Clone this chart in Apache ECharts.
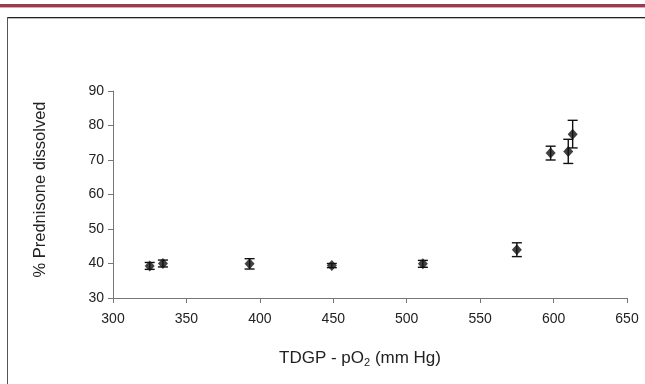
<!DOCTYPE html>
<html><head><meta charset="utf-8">
<script src="https://cdn.jsdelivr.net/npm/echarts@6/dist/echarts.min.js"></script>
<style>html,body{margin:0;padding:0;background:#fff}#c{width:645px;height:384px}</style>
</head><body><div id="c"></div>
<script>
const xVals = [325, 334, 393, 449, 511, 575, 598, 610, 613];
const yVals = [39.3, 40.0, 39.9, 39.4, 39.9, 44.0, 72.0, 72.5, 77.5];
const errVals = [1.0, 1.0, 1.5, 0.6, 1.0, 2.0, 2.0, 3.5, 4.0];
const xTicks = [300, 350, 400, 450, 500, 550, 600, 650];
const yTicks = [30, 40, 50, 60, 70, 80, 90];

const pts = xVals.map((x, i) => [x, yVals[i]]);
const errData = xVals.map((x, i) => [x, yVals[i] - errVals[i], yVals[i] + errVals[i]]);

const chart = echarts.init(document.getElementById('c'), null, {renderer: 'canvas'});
const font = 'Liberation Sans, Arial, sans-serif';
chart.setOption({
  animation: false,
  backgroundColor: '#fff',
  grid: {left: 113, right: 18, top: 91, bottom: 86},
  xAxis: {
    type: 'value', min: xTicks[0], max: xTicks[xTicks.length - 1], interval: 50,
    splitLine: {show: false},
    axisLine: {lineStyle: {color: '#777', width: 1}},
    axisTick: {show: true, length: 5, lineStyle: {color: '#777'}},
    axisLabel: {color: '#222', fontSize: 14, fontFamily: font, margin: 14},
    name: '{a|TDGP - pO}{s|2}{a| (mm Hg)}',
    nameLocation: 'middle', nameGap: 50,
    nameTextStyle: {
      padding: [0, 20, 0, 0],
      rich: {
        a: {fontSize: 17, fontFamily: font, color: '#222'},
        s: {fontSize: 11, fontFamily: font, color: '#222', padding: [9, 0, 0, 0]}
      }
    }
  },
  yAxis: {
    type: 'value', min: yTicks[0], max: yTicks[yTicks.length - 1], interval: 10,
    splitLine: {show: false},
    axisLine: {show: true, lineStyle: {color: '#777', width: 1}},
    axisTick: {show: true, length: 5, lineStyle: {color: '#777'}},
    axisLabel: {color: '#222', fontSize: 14, fontFamily: font, margin: 9},
    name: '% Prednisone dissolved',
    nameLocation: 'middle', nameGap: 64, nameRotate: 90,
    nameTextStyle: {fontSize: 16.5, fontFamily: font, color: '#222', padding: [0, 0, 0, 10]}
  },
  graphic: [
    {type: 'rect', shape: {x: 0, y: 4, width: 645, height: 3}, style: {fill: '#9c3a52'}},
    {type: 'rect', shape: {x: 0, y: 7, width: 645, height: 1}, style: {fill: '#d9a9b4'}},
    {type: 'line', shape: {x1: 7, y1: 17.5, x2: 645, y2: 17.5}, style: {stroke: '#222', lineWidth: 1}},
    {type: 'line', shape: {x1: 7, y1: 18.5, x2: 645, y2: 18.5}, style: {stroke: '#bbb', lineWidth: 1}},
    {type: 'line', shape: {x1: 7.5, y1: 17, x2: 7.5, y2: 384}, style: {stroke: '#555', lineWidth: 1}}
  ],
  series: [
    {
      type: 'custom',
      data: errData,
      z: 3,
      renderItem: function (params, api) {
        const x = api.value(0);
        const lo = api.coord([x, api.value(1)]);
        const hi = api.coord([x, api.value(2)]);
        const w = 5;
        const st = {stroke: '#111', lineWidth: 1.4};
        return {
          type: 'group',
          children: [
            {type: 'line', shape: {x1: lo[0], y1: lo[1], x2: hi[0], y2: hi[1]}, style: st},
            {type: 'line', shape: {x1: lo[0] - w, y1: lo[1], x2: lo[0] + w, y2: lo[1]}, style: st},
            {type: 'line', shape: {x1: hi[0] - w, y1: hi[1], x2: hi[0] + w, y2: hi[1]}, style: st}
          ]
        };
      }
    },
    {
      type: 'scatter',
      data: pts,
      symbol: 'diamond',
      symbolSize: [10, 11],
      itemStyle: {color: '#111'},
      z: 4
    }
  ]
});
</script></body></html>
